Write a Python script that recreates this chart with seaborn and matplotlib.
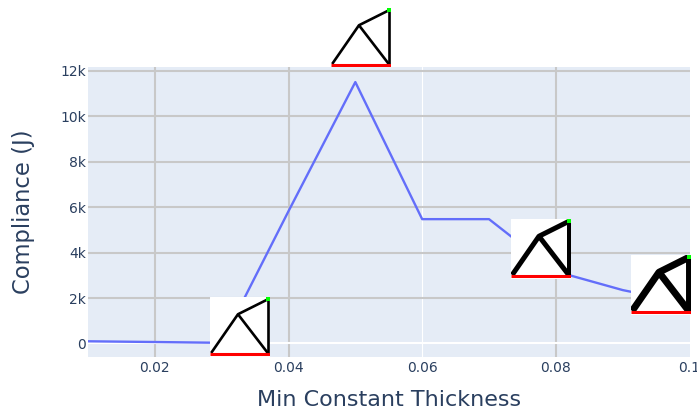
import matplotlib
matplotlib.use("Agg")
import matplotlib.pyplot as plt
import seaborn as sns
import pandas as pd

thickness = [0.01, 0.02, 0.03, 0.04, 0.05, 0.06, 0.07, 0.08, 0.09, 0.10]
compliance = [97, 65, 30, 5820, 11500, 5470, 5470, 3170, 2350, 1750]
x_ticks = [0.02, 0.04, 0.06, 0.08, 0.10]
x_labels = ["0.02", "0.04", "0.06", "0.08", "0.1"]
y_ticks = [0, 2000, 4000, 6000, 8000, 10000, 12000]
y_labels = ["0", "2k", "4k", "6k", "8k", "10k", "12k"]

W, H = 697, 415
sns.set_theme(style="white")
plt.rcParams["font.family"] = ["DejaVu Sans"]
fig = plt.figure(figsize=(W / 100, H / 100), dpi=100, facecolor="white")
ax = fig.add_axes([88 / W, 1 - 357 / H, (689.5 - 88) / W, (357 - 67) / H], facecolor="#E5ECF6")

df = pd.DataFrame({"t": thickness, "c": compliance})
sns.lineplot(data=df, x="t", y="c", ax=ax, color="#636EFA", linewidth=1.7, zorder=3)

ax.set_xlim(0.01, 0.1)
ax.set_ylim(-594, 12163)
ax.set_xticks(x_ticks, x_labels)
ax.set_yticks(y_ticks, y_labels)
ax.grid(True, color="#C8C8C8", linewidth=1.5, zorder=1)
ax.set_axisbelow(True)
ax.get_ygridlines()[0].set(color="white", linewidth=1.5)
ax.get_xgridlines()[2].set(color="white", linewidth=0.8)
ax.get_xgridlines()[4].set_visible(False)
for s in ax.spines.values():
    s.set_visible(False)
ax.tick_params(length=0, labelsize=10, labelcolor="#2A3F5F")
ax.tick_params(axis="y", pad=1.5)
ax.tick_params(axis="x", pad=3)
ax.set_xlabel("Min Constant Thickness", fontsize=16, color="#2A3F5F", labelpad=11)
ax.set_ylabel("Compliance (J)", fontsize=16.3, color="#2A3F5F", labelpad=18)

# Truss thumbnails: pixel origin of each picture and its bar width
thumbs = [(210, 297, 1.9), (331, 8, 1.9), (511, 219, 3.6), (631, 255, 5.0)]
truss_u = [0.02, 0.47, 0.97]
truss_v = [0.06, 0.71, 0.96]
for left, top, lw in thumbs:
    a = fig.add_axes([left / W, 1 - (top + 59.5) / H, 59.5 / W, 59.5 / H], facecolor="white", zorder=5)
    a.set_xlim(0, 1)
    a.set_ylim(0, 1)
    a.axis("off")
    a.add_patch(plt.Rectangle((0, 0), 1, 1, color="white", zorder=0))
    a.plot(truss_u, truss_v, color="black", lw=lw, solid_capstyle="butt", zorder=2)
    a.plot([truss_u[1], truss_u[2]], [truss_v[1], truss_v[0]], color="black", lw=lw, solid_capstyle="butt", zorder=2)
    a.plot([truss_u[2], truss_u[2]], [truss_v[0], truss_v[2]], color="black", lw=lw, solid_capstyle="butt", zorder=2)
    a.plot([0, 1], [0.045, 0.045], color="#FF0000", lw=2.2, solid_capstyle="butt", zorder=3)
    a.plot([0.975], [0.96], marker="s", ms=3, color="#00FF00", mew=0, zorder=4)

fig.savefig("out.png", dpi=100)
